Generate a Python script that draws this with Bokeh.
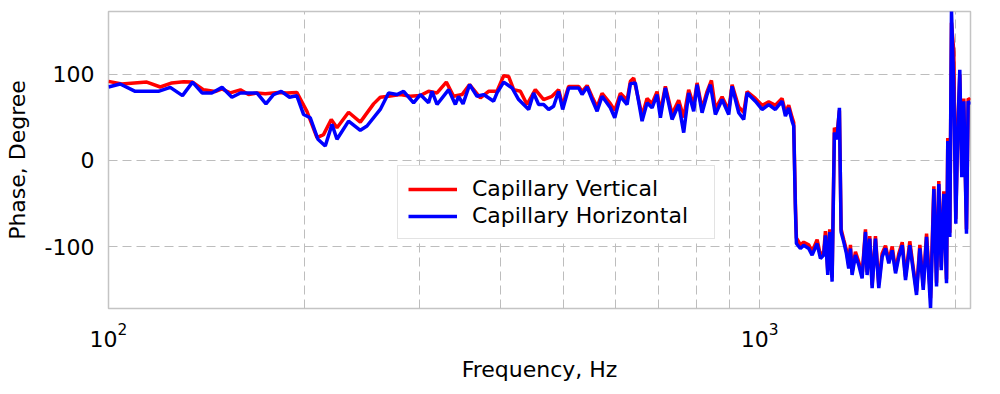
from bokeh.plotting import figure
from bokeh.models import FixedTicker, Legend, LegendItem, Range1d
from bokeh.embed import file_html
from bokeh.resources import INLINE

# Capillary Vertical (red)
freq_v = [100, 104.8, 114.5, 120.1, 125.1, 130.4, 134.6, 140, 145.8, 149.4, 153.8, 159.4,
          164.1, 169, 174.1, 182.4, 187.9, 194.6, 201.7, 209, 213.9, 219.8, 224.3, 233.7,
          243.6, 255.3, 261.4, 269.2, 280.6, 290.6, 301.1, 310.1, 319.5, 330.2, 338.8, 349.1,
          358.5, 372.4, 383.4, 395, 404.4, 411.5, 419, 429, 439.3, 452.3, 465.8, 479.8,
          491.1, 498.2, 508.9, 527.2, 533.6, 543.2, 552.8, 562.7, 572.7, 589.7, 598.9, 611,
          625.7, 633, 640.5, 659.7, 671.4, 683.4, 695.6, 703.8, 716.3, 733.5, 750.9, 764.3,
          777.9, 791.8, 801.3, 815.6, 830.1, 843, 854.9, 875.4, 896.2, 906.9, 928.4, 945,
          956.3, 984.7, 1008.3, 1032.3, 1056.9, 1082.1, 1095.2, 1108, 1121.2, 1127.7, 1134.4,
          1138.5, 1154.6, 1168.3, 1189.1, 1203.5, 1225, 1239.4, 1254, 1261.5, 1272, 1280.8,
          1291.7, 1302.2, 1314.6, 1325.5, 1333.5, 1345.9, 1358.6, 1369.9, 1378.1, 1386.2,
          1402.8, 1419.3, 1436.2, 1453.4, 1461.8, 1475.6, 1488, 1505.6, 1523.4, 1541.7, 1560,
          1578.4, 1597.5, 1616.4, 1635.5, 1655.2, 1674.5, 1700, 1720.5, 1740.9, 1761.5,
          1782.7, 1803.8, 1829.4, 1851, 1868.6, 1883.6, 1899.9, 1917.1, 1935.7, 1944.4,
          1958.4, 1970, 1986.2, 2000.3, 2014.3, 2028.7, 2043.1, 2057.7, 2077.3, 2089.7, 2106.6]
phase_v = [91.8, 88.8, 91, 85.3, 90, 91.5, 91, 82, 80, 83, 78.4, 82,
           76.5, 78.4, 77.5, 79, 78.4, 79, 57, 26.5, 30, 47.6, 38, 56,
           44.5, 65.7, 73.4, 74.5, 76.5, 74.5, 75.3, 80.3, 78.4, 91, 74.5, 76.5,
           88, 72.7, 80.3, 80.3, 98.4, 97.6, 82.2, 80.3, 65, 82.2, 70.7, 74.5,
           82.2, 64, 86, 86, 80, 87, 74, 62, 78, 66, 58, 78,
           70, 92, 95.7, 52, 72, 66, 80, 56, 86, 54, 70, 50,
           82, 64, 90, 60, 80, 93, 60, 74, 58, 88, 62, 56,
           80, 72, 64, 68, 64, 72, 56, 64, 50, 44, -50,
           -90, -98, -95, -98, -106, -92, -110, -106, -82, -128, -80,
           -136, 38, 30, 58, -80, -92, -104, -122, -98, -130,
           -106, -118, -133, -80, -130, -88, -145, -88, -144, -108, -99,
           -116, -100, -128, -108, -95, -135, -94, -124, -152, -98,
           -146, -85, -160, -30, -142, -24, -124, -36, -138, 26,
           -84, 160, 126, -68, 38, 100, -16, 72, -80, 72, 70]

# Capillary Horizontal (blue)
freq_h = [100, 104.2, 109.9, 119.3, 124.4, 129.9, 134.6, 139.2, 144.1, 149.4, 154.7, 159.4,
          169, 174.5, 179.2, 184.2, 189.7, 194.6, 199.3, 204.1, 209.7, 215.2, 220.4, 224.3,
          233.7, 243.6, 249.4, 261.4, 269.2, 277.3, 283.9, 294.1, 301.1, 310.1, 313.9, 319.5,
          332.9, 340.9, 344.8, 350.3, 358.5, 368, 376.7, 390.3, 395, 404.4, 416.6, 426.4,
          441.8, 449.6, 457.6, 465.8, 474.1, 482.5, 491.1, 498.2, 508.9, 527.2, 533.6, 543.2,
          552.8, 562.7, 572.7, 589.7, 598.9, 611, 625.7, 633, 644.2, 659.7, 671.4, 683.4,
          695.6, 703.8, 716.3, 733.5, 750.9, 764.3, 777.9, 791.8, 801.3, 815.6, 830.1, 840,
          854.9, 875.4, 896.2, 906.9, 928.4, 945, 956.3, 984.7, 1008.3, 1032.3, 1056.9,
          1082.1, 1095.2, 1108, 1121.2, 1127.7, 1134.4, 1138.5, 1154.6, 1168.3, 1189.1,
          1203.5, 1225, 1239.4, 1254, 1261.5, 1272, 1280.8, 1291.7, 1302.2, 1314.6, 1325.5,
          1333.5, 1345.9, 1358.6, 1369.9, 1378.1, 1386.2, 1402.8, 1419.3, 1436.2, 1453.4,
          1461.8, 1475.6, 1488, 1505.6, 1523.4, 1541.7, 1560, 1578.4, 1597.5, 1616.4, 1635.5,
          1655.2, 1674.5, 1700, 1720.5, 1740.9, 1761.5, 1782.7, 1803.8, 1829.4, 1851, 1868.6,
          1883.6, 1899.9, 1917.1, 1935.7, 1944.4, 1958.4, 1970, 1986.2, 2000.3, 2014.3,
          2028.7, 2043.1, 2057.7, 2077.3, 2089.7, 2106.6]
phase_h = [85.3, 88.8, 80.3, 80.3, 84.9, 75.3, 91, 78.4, 78.4, 84.9, 73.4, 78.4,
           78.4, 65.7, 76.5, 80.3, 73.4, 75.3, 53.4, 49.6, 24.6, 16.8, 41.9, 24.6,
           45.7, 35, 40, 59.2, 78.4, 76.5, 80.3, 66.9, 76.5, 66.9, 80.3, 65,
           82.2, 65, 74.5, 65.7, 88, 74.5, 76.5, 68.8, 78.4, 91, 84.2, 70.7,
           59.2, 78.4, 65, 65, 59.2, 63, 80.3, 59.2, 84.2, 84.2, 76.5, 85.3,
           70.7, 57.2, 74.5, 61.1, 49.6, 74.5, 64.9, 89.2, 90, 45.7, 66.9, 61.1,
           76.5, 49.6, 84.2, 47.6, 64.9, 32.3, 78.4, 57.2, 88, 55.4, 76.5, 88,
           53.4, 70.7, 53.4, 86.1, 55.4, 47.6, 78.4, 68.8, 59.2, 64.9, 59.2,
           68.8, 51.5, 61.1, 45.7, 40, -56.2, -96.5, -102.3, -98.5, -102.3,
           -110, -96.5, -113.8, -110, -87, -133.1, -83.1, -140.8, 32.3, 24.6, 61.1,
           -83.1, -94.6, -108, -125.4, -102.3, -133.1, -110, -121.5, -136.9, -83.1,
           -133.1, -90.8, -148.4, -90.8, -148.4, -111.9, -102.3, -119.6, -104.3, -131.1, -111.9,
           -98.5, -138.9, -98.5, -127.4, -156.2, -102.3, -150.4, -88.8, -171.5, -33.1, -146.5,
           -27.3, -127.4, -38.9, -142.7, 22.6, -88.8, 174, 84.2, -73.5, 34.2,
           105.3, -19.6, 68.8, -85, 68.8, 64.9]

x_ticks = [100, 1000]
x_minor_ticks = [200, 300, 400, 500, 600, 700, 800, 900, 2000]
y_ticks = [-100, 0, 100]
y_tick_labels = {-100: "-100", 0: "0", 100: "100"}

FONT = "DejaVu Sans"
GRID = "#bdbdbd"

p = figure(width=984, height=390, x_axis_type="log",
           x_range=Range1d(100, 2107), y_range=Range1d(-172, 173),
           output_backend="svg", toolbar_location=None,
           min_border_left=108, min_border_right=14, min_border_top=11, min_border_bottom=82,
           background_fill_color="white", border_fill_color="white")

xt = FixedTicker(ticks=x_ticks, minor_ticks=x_minor_ticks)
p.xaxis.ticker = xt
p.xgrid.ticker = xt
p.yaxis.ticker = FixedTicker(ticks=y_ticks)
p.yaxis.major_label_overrides = y_tick_labels

for g in (p.xgrid, p.ygrid):
    g.grid_line_color = GRID
    g.grid_line_dash = "9 5"
    g.grid_line_width = 1
p.xgrid.minor_grid_line_color = GRID
p.xgrid.minor_grid_line_dash = "9 5"
p.xgrid.minor_grid_line_width = 1

p.outline_line_color = "#c4c4c4"
p.outline_line_width = 1.5

for ax in (p.xaxis, p.yaxis):
    ax.axis_line_color = None
    ax.major_tick_line_color = None
    ax.minor_tick_line_color = None
    ax.major_label_text_font = FONT
    ax.major_label_text_font_size = "22px"
    ax.major_label_text_color = "black"
    ax.axis_label_text_font = FONT
    ax.axis_label_text_font_size = "22px"
    ax.axis_label_text_font_style = "normal"
    ax.axis_label_text_color = "black"

p.xaxis.axis_label = "Frequency, Hz"
p.yaxis.axis_label = "Phase, Degree"
p.xaxis.major_label_standoff = 8
p.xaxis.axis_label_standoff = 7
p.yaxis.major_label_standoff = 8
p.yaxis.axis_label_standoff = 12

r_v = p.line(freq_v, phase_v, line_color="#ff0000", line_width=3.5)
r_h = p.line(freq_h, phase_h, line_color="#0000ff", line_width=3.5)

legend = Legend(items=[LegendItem(label="Capillary Vertical", renderers=[r_v]),
                       LegendItem(label="Capillary Horizontal", renderers=[r_h])],
                location=(289, 69))
legend.label_text_font = FONT
legend.label_text_font_size = "22px"
legend.label_text_color = "black"
legend.glyph_width = 49
legend.glyph_height = 20
legend.label_standoff = 15
legend.label_height = 25
legend.label_width = 232
legend.padding = 10
legend.spacing = 2
legend.margin = 0
legend.border_line_color = "#c8c8c8"
legend.border_line_width = 1
legend.background_fill_color = "white"
legend.background_fill_alpha = 1.0
p.add_layout(legend)

open("out.html", "w").write(file_html(p, INLINE))
